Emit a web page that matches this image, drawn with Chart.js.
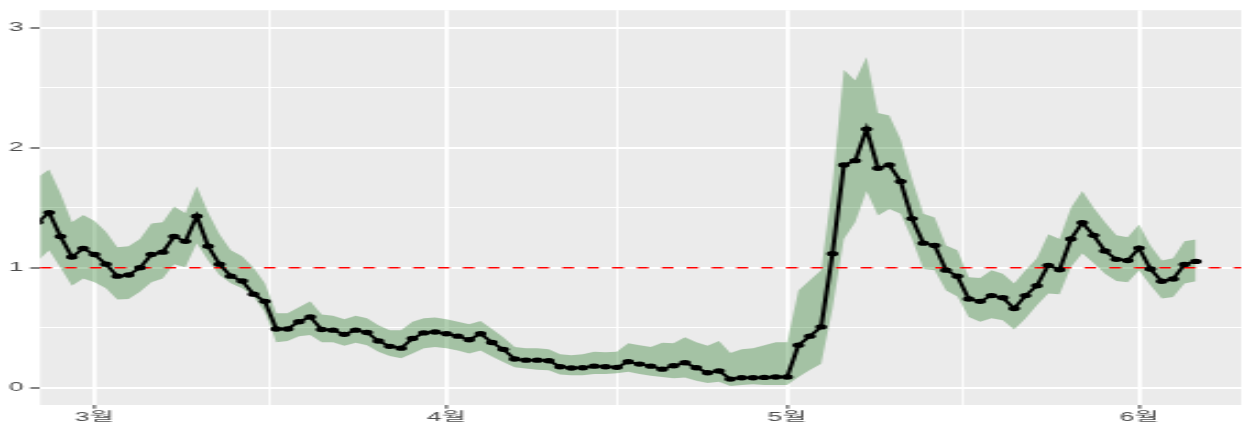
<!DOCTYPE html>
<html>
<head>
<meta charset="utf-8">
<script src="https://cdn.jsdelivr.net/npm/chart.js@4"></script>
<style>
  html, body { margin: 0; padding: 0; background: #ffffff; overflow: hidden; }
  /* the reference is a horizontally stretched raster, so draw narrow and stretch */
  #wrap { width: 568px; height: 423px; transform: scaleX(2.2007); transform-origin: 0 0; }
</style>
</head>
<body>
<div id="wrap"><canvas id="rtChart"></canvas></div>
<script>
// daily estimates, first one on 2020-02-25
const firstDate = '2020-02-25';

const rt = [
  1.38, 1.46, 1.26, 1.09, 1.16, 1.11, 1.03, 0.93, 0.94, 1.00,
  1.11, 1.13, 1.26, 1.22, 1.43, 1.18, 1.03, 0.93, 0.89, 0.78,
  0.72, 0.49, 0.49, 0.55, 0.59, 0.485, 0.48, 0.445, 0.48, 0.46,
  0.39, 0.345, 0.33, 0.41, 0.457, 0.465, 0.45, 0.43, 0.40, 0.45,
  0.377, 0.32, 0.24, 0.23, 0.23, 0.225, 0.175, 0.164, 0.166, 0.18,
  0.175, 0.17, 0.216, 0.197, 0.18, 0.155, 0.183, 0.208, 0.166, 0.125,
  0.14, 0.072, 0.083, 0.083, 0.086, 0.09, 0.09, 0.355, 0.43, 0.507,
  1.117, 1.857, 1.893, 2.156, 1.83, 1.857, 1.72, 1.41, 1.205, 1.186,
  0.98, 0.93, 0.74, 0.72, 0.768, 0.75, 0.66, 0.768, 0.85, 1.02,
  0.984, 1.24, 1.375, 1.27, 1.14, 1.07, 1.06, 1.164, 0.99, 0.887,
  0.906, 1.028, 1.053
];

const rtUpper = [
  1.755, 1.82, 1.62, 1.38, 1.44, 1.39, 1.30, 1.17, 1.18, 1.24,
  1.37, 1.38, 1.51, 1.455, 1.68, 1.46, 1.28, 1.145, 1.095, 1.0,
  0.87, 0.62, 0.62, 0.67, 0.72, 0.61, 0.60, 0.57, 0.60, 0.58,
  0.52, 0.48, 0.48, 0.55, 0.58, 0.585, 0.57, 0.55, 0.53, 0.557,
  0.49, 0.42, 0.34, 0.33, 0.33, 0.32, 0.28, 0.27, 0.28, 0.30,
  0.295, 0.30, 0.37, 0.355, 0.34, 0.375, 0.37, 0.42, 0.38, 0.35,
  0.39, 0.29, 0.32, 0.33, 0.355, 0.38, 0.38, 0.81, 0.895, 0.98,
  1.70, 2.65, 2.56, 2.757, 2.29, 2.27, 2.07, 1.74, 1.45, 1.42,
  1.186, 1.145, 0.92, 0.915, 0.98, 0.95, 0.868, 0.98, 1.08, 1.28,
  1.24, 1.50, 1.64, 1.50, 1.38, 1.27, 1.255, 1.36, 1.186, 1.06,
  1.08, 1.22, 1.236
];

const rtLower = [
  1.06, 1.145, 1.0, 0.85, 0.91, 0.88, 0.83, 0.735, 0.74, 0.80,
  0.88, 0.91, 1.03, 1.005, 1.205, 1.06, 0.94, 0.87, 0.83, 0.76,
  0.63, 0.38, 0.39, 0.43, 0.44, 0.38, 0.38, 0.35, 0.375, 0.355,
  0.30, 0.265, 0.245, 0.285, 0.33, 0.34, 0.33, 0.31, 0.285, 0.31,
  0.26, 0.215, 0.17, 0.16, 0.15, 0.145, 0.11, 0.105, 0.105, 0.114,
  0.114, 0.12, 0.133, 0.114, 0.10, 0.09, 0.078, 0.086, 0.058, 0.04,
  0.05, 0.014, 0.022, 0.028, 0.022, 0.022, 0.022, 0.09, 0.147, 0.20,
  0.66, 1.24, 1.38, 1.64, 1.435, 1.49, 1.45, 1.24, 0.99, 0.98,
  0.81, 0.76, 0.59, 0.55, 0.58, 0.563, 0.485, 0.577, 0.687, 0.785,
  0.78, 1.006, 1.122, 1.04, 0.95, 0.89, 0.88, 0.978, 0.854, 0.743,
  0.756, 0.868, 0.887
];

const monthStarts = ['2020-03-01', '2020-04-01', '2020-05-01', '2020-06-01'];
const monthLabels = ['3월', '4월', '5월', '6월'];
const yTicks = [0, 1, 2, 3];
const refValue = 1;

const DAY = 86400000;
const toDay = s => Date.parse(s) / DAY;
const origin = toDay(monthStarts[0]);
const monthDays = monthStarts.map(s => toDay(s) - origin);
const day0 = toDay(firstDate) - origin;

const asPoints = arr => arr.map((v, i) => ({ x: day0 + i, y: v }));

// minor breaks half way between the major ones, like ggplot
const xMinor = monthDays.slice(1).map((d, i) => (d + monthDays[i]) / 2);
const xTickValues = monthDays.concat(xMinor).sort((a, b) => a - b);
const yMinor = yTicks.slice(1).map((v, i) => (v + yTicks[i]) / 2);
const yTickValues = yTicks.concat(yMinor).sort((a, b) => a - b);

const isMajorX = v => monthDays.includes(v);
const isMajorY = v => yTicks.includes(v);

Chart.defaults.font.family = '"Liberation Sans", Arial, "Noto Sans CJK KR", sans-serif';
Chart.defaults.font.size = 12;
Chart.defaults.color = '#4D4D4D';

const refLine = {
    id: 'refLine',
    beforeDatasetDraw(chart, args) {
        if (args.index !== 0) return;
        const { ctx, chartArea, scales } = chart;
        const y = scales.y.getPixelForValue(refValue);
        ctx.save();
        ctx.strokeStyle = '#FF0000';
        ctx.lineWidth = 1.6;
        ctx.setLineDash([5.3, 6]);
        ctx.beginPath();
        ctx.moveTo(chartArea.left, y);
        ctx.lineTo(chartArea.right, y);
        ctx.stroke();
        ctx.restore();
    }
};

const panelBg = {
    id: 'panelBg',
    beforeDraw(chart) {
        const { ctx, chartArea } = chart;
        ctx.save();
        ctx.fillStyle = '#EBEBEB';
        ctx.fillRect(chartArea.left, chartArea.top, chartArea.width, chartArea.height);
        ctx.restore();
    }
};

new Chart(document.getElementById('rtChart'), {
    type: 'line',
    data: {
        datasets: [
            {
                label: 'Rt',
                data: asPoints(rt),
                borderColor: '#000000',
                borderWidth: 2,
                pointRadius: 2.7,
                pointBackgroundColor: '#000000',
                pointBorderWidth: 0,
                fill: false,
            },
            {
                label: 'upper',
                data: asPoints(rtUpper),
                borderWidth: 0,
                pointRadius: 0,
                backgroundColor: 'rgba(0, 100, 0, 0.3)',
                fill: '+1',
            },
            {
                label: 'lower',
                data: asPoints(rtLower),
                borderWidth: 0,
                pointRadius: 0,
                fill: false,
            },
        ],
    },
    options: {
        responsive: true,
        maintainAspectRatio: false,
        animation: false,
        layout: { padding: { top: 9, right: 1, left: 0, bottom: 0 } },
        plugins: {
            legend: { display: false },
            tooltip: { enabled: false },
        },
        scales: {
            x: {
                type: 'linear',
                min: day0 + 0.2,
                max: 101,
                afterBuildTicks: s => { s.ticks = xTickValues.map(v => ({ value: v })); },
                afterFit: s => { s.height = 18; },
                border: { display: false },
                grid: {
                    color: '#FFFFFF',
                    lineWidth: c => (c.tick && isMajorX(c.tick.value) ? 1.8 : 0.9),
                    tickColor: c => (c.tick && isMajorX(c.tick.value) ? '#333333' : 'rgba(0,0,0,0)'),
                    tickWidth: 1,
                    tickLength: 3.7,
                },
                ticks: {
                    autoSkip: false,
                    maxRotation: 0,
                    padding: 2,
                    color: '#4D4D4D',
                    callback: v => {
                        const i = monthDays.indexOf(v);
                        return i >= 0 ? monthLabels[i] : '';
                    },
                },
            },
            y: {
                min: -0.144,
                max: 3.147,
                afterBuildTicks: s => { s.ticks = yTickValues.map(v => ({ value: v })); },
                afterFit: s => { s.width = 18.2; },
                border: { display: false },
                grid: {
                    color: '#FFFFFF',
                    lineWidth: c => (c.tick && isMajorY(c.tick.value) ? 2 : 1),
                    tickColor: c => (c.tick && isMajorY(c.tick.value) ? '#333333' : 'rgba(0,0,0,0)'),
                    tickWidth: 1.2,
                    tickLength: 4.5,
                },
                ticks: {
                    padding: 3,
                    color: '#4D4D4D',
                    callback: v => (isMajorY(v) ? String(v) : ''),
                },
            },
        },
    },
    plugins: [panelBg, refLine],
});
</script>
</body>
</html>
